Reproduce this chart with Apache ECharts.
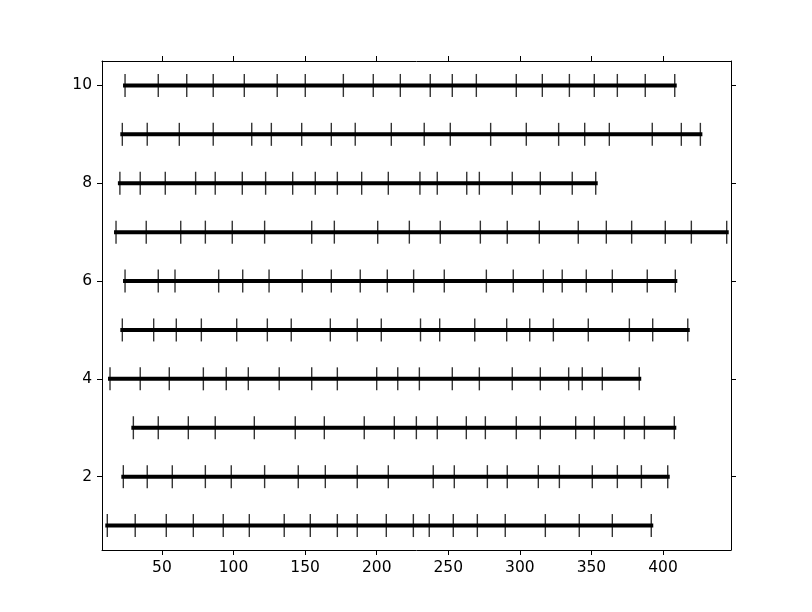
<!DOCTYPE html>
<html lang="en">
<head>
    <meta charset="UTF-8">
    <title>Events</title>
    <script src="https://cdn.jsdelivr.net/npm/echarts@6/dist/echarts.min.js"></script>
    <style>
        html, body { margin: 0; padding: 0; background: #fff; }
    </style>
</head>
<body>
    <div id="chart" style="width: 812px; height: 612px;"></div>
    <script>
        // event positions per row (row 1 at the bottom)
        const row1 = [11.8, 31.3, 53.0, 71.9, 92.8, 111.0, 135.4, 153.6, 172.5, 186.4, 206.7, 225.6, 236.7, 253.5, 270.3, 289.8, 317.8, 341.5, 364.6, 391.8];
        const row2 = [23.0, 39.7, 57.2, 80.3, 98.4, 121.7, 145.2, 164.1, 186.4, 208.1, 239.5, 254.2, 277.3, 291.2, 312.9, 327.6, 350.6, 368.1, 384.9, 403.3];
        const row3 = [30.0, 47.4, 68.4, 87.2, 114.5, 143.1, 163.4, 191.3, 212.3, 227.7, 242.3, 262.6, 275.9, 297.5, 314.3, 339.0, 352.0, 373.0, 387.0, 407.9];
        const row4 = [13.7, 34.8, 55.1, 78.9, 94.9, 110.3, 131.9, 154.6, 172.5, 200.0, 214.7, 229.8, 252.8, 271.7, 294.7, 314.3, 334.1, 343.6, 357.6, 383.4];
        const row5 = [22.3, 44.2, 60.0, 77.5, 102.2, 123.6, 140.3, 167.6, 186.4, 203.2, 230.6, 244.0, 268.5, 290.8, 306.9, 323.4, 347.8, 376.5, 392.8, 417.3];
        const row6 = [24.2, 47.4, 59.1, 89.6, 106.4, 124.8, 148.0, 168.3, 188.5, 207.4, 225.8, 247.2, 276.6, 295.4, 316.4, 329.6, 346.4, 364.6, 389.0, 408.6];
        const row7 = [17.9, 39.0, 63.1, 80.3, 99.1, 121.7, 154.6, 170.4, 200.7, 222.8, 244.4, 272.4, 291.2, 313.6, 340.8, 360.4, 378.1, 401.6, 419.8, 444.5];
        const row8 = [20.6, 34.8, 52.3, 73.5, 87.2, 106.1, 122.4, 141.3, 157.1, 172.5, 189.5, 208.1, 230.2, 242.3, 262.9, 271.7, 294.7, 314.3, 336.6, 353.0];
        const row9 = [22.3, 39.7, 62.1, 85.8, 112.7, 126.4, 147.6, 168.3, 185.0, 210.2, 233.2, 251.4, 279.6, 304.5, 327.1, 345.3, 362.5, 392.5, 412.8, 426.1];
        const row10 = [24.2, 47.4, 67.3, 85.8, 107.5, 130.5, 150.1, 176.7, 197.6, 216.5, 237.4, 252.8, 269.6, 297.5, 315.7, 334.6, 352.0, 368.1, 387.6, 408.2];

        const rowsArr = [row1, row2, row3, row4, row5, row6, row7, row8, row9, row10];
        const xTicks = [50, 100, 150, 200, 250, 300, 350, 400];
        const yTicks = [2, 4, 6, 8, 10];

        const myChart = echarts.init(document.querySelector('#chart'));

        const series = [];
        rowsArr.forEach((evts, i) => {
            const y = i + 1;
            // thick line from first to last event
            series.push({
                type: 'line',
                data: [[Math.min(...evts), y], [Math.max(...evts), y]],
                showSymbol: false,
                lineStyle: { color: '#000', width: 4, cap: 'square' },
                silent: true,
                z: 2
            });
            // one vertical tick per event
            series.push({
                type: 'scatter',
                data: evts.map(v => [v, y]),
                symbol: 'rect',
                symbolSize: [1.4, 23],
                itemStyle: { color: '#000' },
                silent: true,
                z: 3
            });
        });

        const labelStyle = { color: '#000', fontSize: 15.5, fontFamily: 'DejaVu Sans' };
        const axisCommon = {
            type: 'value',
            axisLine: { show: true, onZero: false, lineStyle: { color: '#000', width: 1 } },
            splitLine: { show: false }
        };

        const option = {
            animation: false,
            grid: { left: 102, right: 81, top: 61, bottom: 62, show: false },
            xAxis: [
                Object.assign({}, axisCommon, {
                    position: 'bottom', min: 8.1, max: 447.5,
                    axisTick: { length: 5, customValues: xTicks, lineStyle: { color: '#000' } },
                    axisLabel: Object.assign({ margin: 10, customValues: xTicks }, labelStyle)
                }),
                Object.assign({}, axisCommon, {
                    position: 'top', min: 8.1, max: 447.5,
                    axisTick: { length: 5, customValues: xTicks, lineStyle: { color: '#000' } },
                    axisLabel: { show: false }
                })
            ],
            yAxis: [
                Object.assign({}, axisCommon, {
                    position: 'left', min: 0.5, max: 10.5,
                    axisTick: { length: 5, customValues: yTicks, lineStyle: { color: '#000' } },
                    axisLabel: Object.assign({ margin: 10, customValues: yTicks }, labelStyle)
                }),
                Object.assign({}, axisCommon, {
                    position: 'right', min: 0.5, max: 10.5,
                    axisTick: { length: 5, customValues: yTicks, lineStyle: { color: '#000' } },
                    axisLabel: { show: false }
                })
            ],
            series: series
        };
        myChart.setOption(option);
    </script>
</body>
</html>
